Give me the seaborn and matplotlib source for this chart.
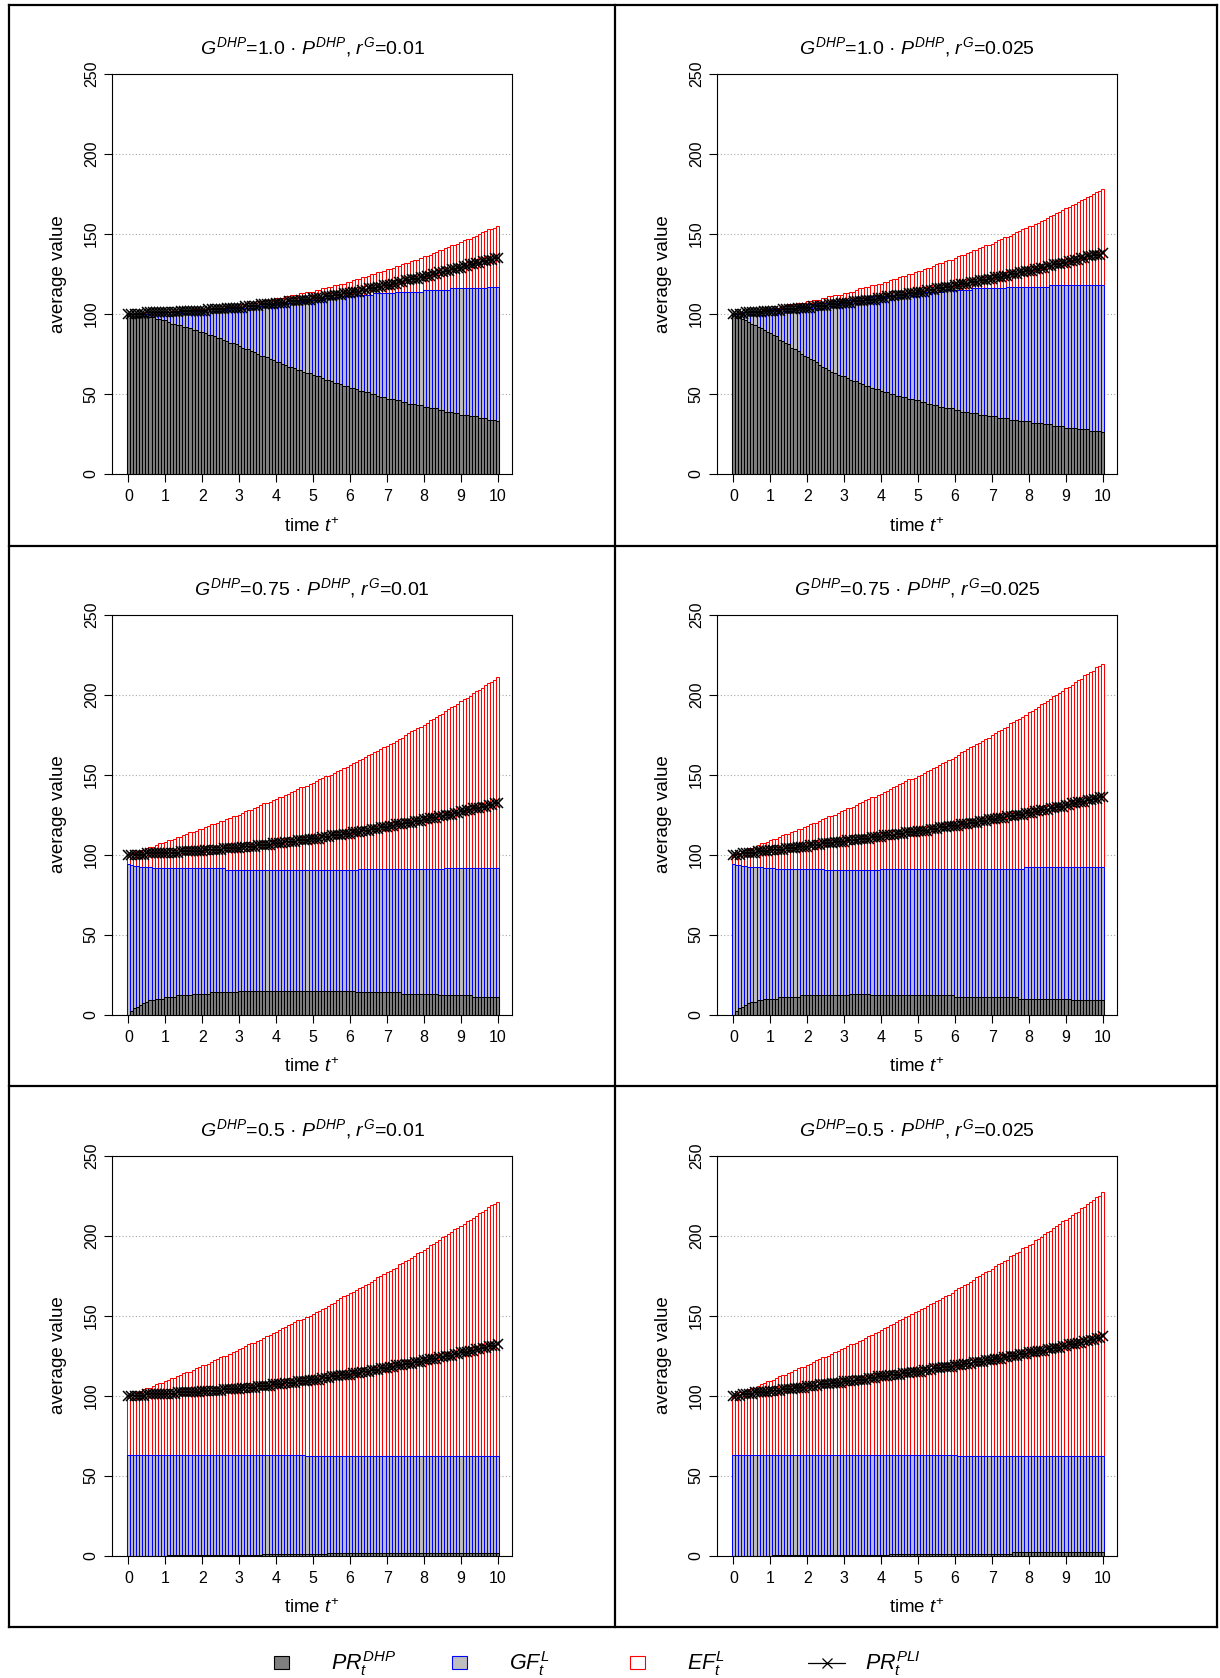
import numpy as np
import pandas as pd
import matplotlib
matplotlib.use("Agg")
import matplotlib.pyplot as plt
from matplotlib.lines import Line2D
from matplotlib.patches import Patch
import seaborn as sns

# ---------------------------------------------------------------------------
# data: monthly averages over 10 years (t+ = month / 12)
# *_dhp : height of PR^DHP segment
# *_gf  : top of the GF^L segment (PR^DHP + GF^L)
# *_ef  : top of the EF^L segment (PR^DHP + GF^L + EF^L)
# *_pli : PR^PLI line
# ---------------------------------------------------------------------------
months = list(range(121))
year_ticks = list(range(11))
value_ticks = [0, 50, 100, 150, 200, 250]

g_shares = ["1.0", "1.0", "0.75", "0.75", "0.5", "0.5"]
growth_rates = ["0.01", "0.025", "0.01", "0.025", "0.01", "0.025"]

p1_dhp = [100,100,100,99,99,99,99,98,98,97,97,96,
          96,95,94,94,93,93,92,92,91,90,90,89,
          89,88,87,87,86,85,85,84,83,82,82,81,
          80,79,78,78,77,76,75,74,74,73,72,71,
          70,70,69,68,67,67,66,65,65,64,63,63,
          62,61,61,60,59,59,58,57,57,56,55,55,
          54,54,53,52,52,51,51,50,50,49,48,48,
          47,47,47,46,46,45,45,44,44,44,43,43,
          42,42,41,41,41,40,40,39,39,39,38,38,
          37,37,37,36,36,36,35,35,35,34,34,34,
          33]
p1_gf = [100,100,100,100,100,100,100,100,101,101,101,101,
         101,101,101,101,101,101,102,102,102,102,102,102,
         102,102,103,103,103,103,103,103,103,104,104,104,
         104,104,104,105,105,105,105,105,105,106,106,106,
         106,106,107,107,107,107,108,108,108,108,108,109,
         109,109,109,109,110,110,110,110,110,111,111,111,
         111,111,112,112,112,112,112,112,113,113,113,113,
         113,113,113,114,114,114,114,114,114,114,114,114,
         115,115,115,115,115,115,115,115,115,116,116,116,
         116,116,116,116,116,116,116,116,116,117,117,117,
         117]
p1_ef = [100,100,100,100,100,101,101,101,101,101,101,101,
         101,101,102,102,102,102,102,102,102,103,103,103,
         103,103,104,104,104,104,104,105,105,105,105,106,
         106,106,106,107,107,107,108,108,108,109,109,109,
         110,110,110,111,111,112,112,112,113,113,114,114,
         114,115,115,116,116,117,117,118,118,119,119,120,
         120,121,122,122,123,123,124,125,125,126,126,127,
         128,128,129,130,130,131,132,132,133,134,134,135,
         136,136,137,138,139,140,140,141,142,143,143,144,
         145,146,147,147,148,149,150,151,152,153,153,154,
         155]
p1_pli = [100,100,100,100,100,100,101,101,101,101,101,101,
          101,101,101,101,101,102,102,102,102,102,102,102,
          102,102,103,103,103,103,103,103,104,104,104,104,
          104,104,105,105,105,105,105,106,106,106,106,106,
          107,107,107,107,108,108,108,108,109,109,109,109,
          110,110,110,110,111,111,111,112,112,112,113,113,
          113,114,114,114,115,115,116,116,116,117,117,118,
          118,118,119,119,120,120,121,121,122,122,122,123,
          123,124,124,125,125,126,126,127,127,128,128,129,
          129,130,130,131,131,132,132,133,133,134,134,135,
          135]

p2_dhp = [100,99,98,97,96,95,94,93,92,91,90,89,
          88,87,86,84,83,82,81,79,78,77,75,74,
          73,72,71,70,68,67,66,65,64,63,62,61,
          61,60,59,58,58,57,56,55,55,54,53,53,
          52,51,51,50,50,49,49,48,48,47,47,46,
          46,45,45,44,44,43,43,42,42,41,41,41,
          40,40,39,39,39,38,38,38,37,37,37,36,
          36,36,35,35,35,35,34,34,34,33,33,33,
          33,32,32,32,32,31,31,31,30,30,30,30,
          29,29,29,29,28,28,28,28,27,27,27,27,
          26]
p2_gf = [100,100,100,101,101,101,101,102,102,102,102,102,
         103,103,103,103,104,104,104,104,105,105,105,105,
         106,106,106,106,107,107,107,107,108,108,108,108,
         109,109,109,109,109,110,110,110,110,111,111,111,
         111,111,112,112,112,112,112,112,113,113,113,113,
         113,113,114,114,114,114,114,114,114,115,115,115,
         115,115,115,115,115,115,116,116,116,116,116,116,
         116,116,116,116,116,117,117,117,117,117,117,117,
         117,117,117,117,117,117,117,118,118,118,118,118,
         118,118,118,118,118,118,118,118,118,118,118,118,
         118]
p2_ef = [100,100,101,101,101,101,102,102,102,103,103,103,
         103,104,104,104,105,105,106,106,106,107,107,107,
         108,108,109,109,109,110,110,111,111,112,112,112,
         113,113,114,114,115,116,116,117,117,118,118,119,
         119,120,120,121,122,122,123,124,124,125,125,126,
         127,127,128,129,129,130,131,132,132,133,134,134,
         135,136,137,137,138,139,140,140,141,142,143,143,
         144,145,146,147,148,148,149,150,151,152,153,154,
         155,155,156,157,158,159,160,161,162,163,164,165,
         166,167,168,169,170,171,172,173,174,175,176,177,
         178]
p2_pli = [100,100,100,100,101,101,101,101,101,101,102,102,
          102,102,102,102,103,103,103,103,103,104,104,104,
          104,104,105,105,105,105,105,106,106,106,106,107,
          107,107,107,108,108,108,108,109,109,109,109,110,
          110,110,111,111,111,112,112,112,112,113,113,113,
          114,114,114,115,115,115,116,116,116,117,117,117,
          118,118,119,119,119,120,120,120,121,121,121,122,
          122,123,123,123,124,124,125,125,125,126,126,127,
          127,127,128,128,129,129,130,130,131,131,131,132,
          132,133,133,134,134,135,135,136,136,137,137,137,
          138]

p3_dhp = [0,2,4,5,6,7,8,9,9,10,10,10,
          11,11,11,11,12,12,12,12,12,13,13,13,
          13,13,13,14,14,14,14,14,14,14,14,14,
          15,15,15,15,15,15,15,15,15,15,15,15,
          15,15,15,15,15,15,15,15,15,15,15,15,
          15,15,15,15,15,15,15,15,15,15,15,15,
          15,15,14,14,14,14,14,14,14,14,14,14,
          14,14,14,14,14,13,13,13,13,13,13,13,
          13,13,13,13,13,12,12,12,12,12,12,12,
          12,12,12,12,11,11,11,11,11,11,11,11,
          11]
p3_gf = [94,93.5,93.1,92.8,92.5,92.3,92.1,91.9,91.8,91.7,91.6,91.5,
         91.5,91.5,91.5,91.5,91.5,91.5,91.5,91.5,91.5,91.5,
         91.5,91.5,91.5,91.5,91.5,91.5,91.5,91.5,91.5,91.5,
         90.4,90.4,90.4,90.4,90.4,90.4,90.4,90.4,90.4,90.4,
         90.4,90.4,90.4,90.4,90.4,90.4,90.4,90.4,90.4,90.4,
         90.4,90.4,90.4,90.4,90.4,90.4,90.4,90.4,90.4,90.4,
         90.4,90.4,90.4,90.4,90.4,90.4,90.4,90.4,90.4,90.4,
         90.4,90.4,90.4,
         90.8,90.8,90.8,90.8,90.8,90.8,90.8,90.8,90.8,90.8,
         90.8,90.8,90.8,90.8,90.8,90.8,90.8,90.8,90.8,90.8,
         90.8,90.8,90.8,90.8,90.8,90.8,90.8,90.8,
         91.5,91.5,91.5,91.5,91.5,91.5,91.5,91.5,91.5,91.5,
         91.5,91.5,91.5,91.5,91.5,91.5,91.5,91.5]
p3_ef = [100,101,101,102,103,103,104,105,105,106,107,107,
         108,109,109,110,111,111,112,113,114,114,115,116,
         116,117,118,119,119,120,121,121,122,123,124,124,
         125,126,127,128,128,129,130,131,132,132,133,134,
         135,136,136,137,138,139,140,141,142,142,143,144,
         145,146,147,148,149,149,150,151,152,153,154,155,
         156,157,158,159,160,161,162,163,164,165,166,167,
         168,169,170,171,172,173,175,176,177,178,179,180,
         181,182,184,185,186,187,188,190,191,192,193,194,
         196,197,198,199,201,202,203,204,206,207,208,209,
         211]
p3_pli = [100,100,100,100,100,100,101,101,101,101,101,101,
          101,101,101,101,101,102,102,102,102,102,102,102,
          102,103,103,103,103,103,103,104,104,104,104,104,
          104,105,105,105,105,105,106,106,106,106,106,107,
          107,107,107,108,108,108,108,109,109,109,109,110,
          110,110,110,111,111,111,112,112,112,112,113,113,
          113,114,114,114,115,115,115,116,116,116,117,117,
          117,118,118,119,119,119,120,120,120,121,121,121,
          122,122,123,123,123,124,124,125,125,125,126,126,
          127,127,128,128,129,129,129,130,130,131,131,132,
          132]

p4_dhp = [0,2,4,5,6,7,8,8,9,9,10,10,
          10,10,10,11,11,11,11,11,11,11,12,12,
          12,12,12,12,12,12,12,12,12,12,12,12,
          12,12,13,13,13,13,13,13,13,12,12,12,
          12,12,12,12,12,12,12,12,12,12,12,12,
          12,12,12,12,12,12,12,12,12,12,12,12,
          11,11,11,11,11,11,11,11,11,11,11,11,
          11,11,11,11,11,11,11,11,11,10,10,10,
          10,10,10,10,10,10,10,10,10,10,10,10,
          10,10,9,9,9,9,9,9,9,9,9,9,
          9]
p4_gf = [94,93.6,93.2,92.9,92.6,92.4,92.2,92.1,92,91.9,91.8,91.7,91.6,91.5,
         91.1,91.1,91.1,91.1,91.1,91.1,91.1,91.1,
         91.1,91.1,91.1,91.1,91.1,91.1,91.1,91.1,
         90.6,90.6,90.6,90.6,90.6,90.6,90.6,90.6,90.6,
         90.6,90.6,90.6,90.6,90.6,90.6,90.6,90.6,90.6,
         91.1,91.1,91.1,91.1,91.1,91.1,91.1,91.1,91.1,91.1,
         91.1,91.1,91.1,91.1,91.1,91.1,91.1,91.1,91.1,91.1,
         91.1,91.1,91.1,91.1,91.1,91.1,91.1,91.1,91.1,91.1,
         91.1,91.1,91.1,91.1,91.1,91.1,91.1,91.1,91.1,91.1,
         91.1,91.1,91.1,91.1,91.1,91.1,91.1,
         92,92,92,92,92,92,92,92,92,92,92,92,92,
         92,92,92,92,92,92,92,92,92,92,92,92,92]
p4_ef = [100,101,101,102,103,104,104,105,106,107,107,108,
         109,110,110,111,112,113,113,114,115,116,116,117,
         118,119,120,120,121,122,123,124,124,125,126,127,
         128,129,129,130,131,132,133,134,135,136,136,137,
         138,139,140,141,142,143,144,145,146,147,147,148,
         149,150,151,152,153,154,155,156,157,158,159,160,
         161,162,164,165,166,167,168,169,170,171,172,173,
         175,176,177,178,179,180,182,183,184,185,186,187,
         189,190,191,192,194,195,196,197,199,200,201,202,
         204,205,206,208,209,210,212,213,214,215,217,218,
         219]
p4_pli = [100,100,100,101,101,101,101,101,102,102,102,102,
          103,103,103,103,103,104,104,104,104,105,105,105,
          105,106,106,106,106,107,107,107,107,108,108,108,
          108,109,109,109,109,110,110,110,110,111,111,111,
          111,112,112,112,112,113,113,113,114,114,114,114,
          115,115,115,115,116,116,116,117,117,117,118,118,
          118,118,119,119,119,120,120,120,121,121,121,122,
          122,122,123,123,123,124,124,124,125,125,125,126,
          126,126,127,127,128,128,128,129,129,130,130,130,
          131,131,132,132,133,133,133,134,134,135,135,136,
          136]

p5_dhp = [0,0,0,0,0,0,0,0,0,0,0,0,0,
          0.6,0.6,0.6,0.6,0.6,0.6,0.6,0.6,0.6,0.6,
          0.6,0.6,0.6,0.6,0.6,0.6,0.6,0.6,0.6,0.6,
          0.6,0.6,0.6,0.6,0.6,0.6,0.6,0.6,0.6,0.6,0.6,
          1.2,1.2,1.2,1.2,1.2,1.2,1.2,1.2,1.2,1.2,
          1.2,1.2,1.2,1.2,1.2,1.2,1.2,1.2,1.2,1.2,1.2,
          1.8,1.8,1.8,1.8,1.8,1.8,1.8,1.8,1.8,1.8,
          1.8,1.8,1.8,1.8,1.8,1.8,1.8,1.8,1.8,1.8,
          1.8,1.8,1.8,1.8,1.8,1.8,1.8,1.8,1.8,1.8,
          1.8,1.8,1.8,1.8,1.8,1.8,1.8,1.8,1.8,1.8,
          1.8,1.8,1.8,1.8,1.8,1.8,1.8,1.8,1.8,1.8,
          1.8,1.8,1.8,1.8,1.8,1.8]
p5_gf = [62.6,62.6,62.6,62.6,62.6,62.6,62.6,62.6,62.6,62.6,
         62.6,62.6,62.6,62.6,62.6,62.6,62.6,62.6,62.6,62.6,
         62.6,62.6,62.6,62.6,62.6,62.6,62.6,62.6,62.6,62.6,
         62.6,62.6,62.6,62.6,62.6,62.6,62.6,62.6,62.6,62.6,
         62.6,62.6,62.6,62.6,62.6,62.6,62.6,62.6,62.6,62.6,
         62.6,62.6,62.6,62.6,62.6,62.6,62.6,62.6,
         62.0,62.0,62.0,62.0,62.0,62.0,62.0,62.0,62.0,62.0,
         62.0,62.0,62.0,62.0,62.0,62.0,62.0,62.0,62.0,62.0,
         62.0,62.0,62.0,62.0,62.0,62.0,62.0,62.0,62.0,62.0,
         62.0,62.0,62.0,62.0,62.0,62.0,62.0,62.0,62.0,62.0,
         62.0,62.0,62.0,62.0,62.0,62.0,62.0,62.0,62.0,62.0,
         62.0,62.0,62.0,62.0,62.0,62.0,62.0,62.0,62.0,62.0,
         62.0,62.0,62.0]
p5_ef = [100,101,102,102,103,104,105,105,106,107,108,108,
         109,110,111,111,112,113,114,115,115,116,117,118,
         119,119,120,121,122,123,124,125,125,126,127,128,
         129,130,131,132,133,133,134,135,136,137,138,139,
         140,141,142,143,144,145,146,147,147,148,149,150,
         151,152,153,154,155,156,157,158,160,161,162,163,
         164,165,166,167,168,169,170,171,172,174,175,176,
         177,178,179,180,182,183,184,185,186,187,189,190,
         191,192,194,195,196,197,199,200,201,202,204,205,
         206,207,209,210,211,212,214,215,216,218,219,220,
         221]
p5_pli = [100,100,100,100,100,100,101,101,101,101,101,101,
          101,101,101,101,102,102,102,102,102,102,102,102,
          103,103,103,103,103,103,103,104,104,104,104,104,
          104,105,105,105,105,105,106,106,106,106,106,107,
          107,107,107,108,108,108,108,109,109,109,109,110,
          110,110,110,111,111,111,112,112,112,113,113,113,
          113,114,114,114,115,115,115,116,116,116,117,117,
          117,118,118,119,119,119,120,120,120,121,121,121,
          122,122,123,123,123,124,124,125,125,125,126,126,
          127,127,127,128,128,129,129,130,130,131,131,131,
          132]

p6_dhp = [0,0,0,0,0,0,0,0,0,0,0,0,0,
          0.5,0.5,0.5,0.5,0.5,0.5,0.5,0.5,0.5,0.5,
          0.5,0.5,0.5,0.5,0.5,0.5,0.5,0.5,0.5,0.5,
          0.5,0.5,0.5,0.5,0.5,0.5,0.5,0.5,0.5,0.5,
          0.5,0.5,0.5,0.5,0.5,0.5,0.5,0.5,
          1.2,1.2,1.2,1.2,1.2,1.2,1.2,1.2,1.2,1.2,
          1.2,1.2,1.2,1.2,1.2,1.2,1.2,1.2,1.2,1.2,
          1.2,1.2,1.2,1.2,1.2,1.2,1.2,1.2,1.2,1.2,
          1.2,1.2,1.2,1.2,1.2,1.2,1.2,1.2,1.2,1.2,
          1.9,1.9,1.9,1.9,1.9,1.9,1.9,1.9,1.9,1.9,
          1.9,1.9,1.9,1.9,1.9,1.9,1.9,1.9,1.9,1.9,
          1.9,1.9,1.9,1.9,1.9,1.9,1.9,1.9,1.9,1.9]
p6_gf = [62.6,62.6,62.6,62.6,62.6,62.6,62.6,62.6,62.6,62.6,
         62.6,62.6,62.6,62.6,62.6,62.6,62.6,62.6,62.6,62.6,
         62.6,62.6,62.6,62.6,62.6,62.6,62.6,62.6,62.6,62.6,
         62.6,62.6,62.6,62.6,62.6,62.6,62.6,62.6,62.6,62.6,
         62.6,62.6,62.6,62.6,62.6,62.6,62.6,62.6,62.6,62.6,
         62.6,62.6,62.6,62.6,62.6,62.6,62.6,62.6,62.6,62.6,
         62.6,62.6,62.6,62.6,62.6,62.6,62.6,62.6,62.6,62.6,
         62.6,62.6,62.6,
         62.0,62.0,62.0,62.0,62.0,62.0,62.0,62.0,62.0,62.0,
         62.0,62.0,62.0,62.0,62.0,62.0,62.0,62.0,62.0,62.0,
         62.0,62.0,62.0,62.0,62.0,62.0,62.0,62.0,62.0,62.0,
         62.0,62.0,62.0,62.0,62.0,62.0,62.0,62.0,62.0,62.0,
         62.0,62.0,62.0,62.0,62.0,62.0,62.0,62.0]
p6_ef = [100,101,102,102,103,104,105,105,106,107,108,109,
         109,110,111,112,113,113,114,115,116,117,118,118,
         119,120,121,122,123,124,124,125,126,127,128,129,
         130,131,132,132,133,134,135,136,137,138,139,140,
         141,142,143,144,145,146,147,148,149,150,151,152,
         153,154,155,156,157,158,159,160,161,162,163,164,
         166,167,168,169,170,171,172,174,175,176,177,178,
         179,181,182,183,184,185,187,188,189,190,192,193,
         194,195,197,198,199,201,202,203,205,206,207,209,
         210,211,213,214,215,217,218,220,221,222,224,225,
         227]
p6_pli = [100,100,100,101,101,101,101,102,102,102,102,102,
          103,103,103,103,104,104,104,104,105,105,105,105,
          106,106,106,106,107,107,107,107,108,108,108,108,
          109,109,109,109,110,110,110,110,111,111,111,112,
          112,112,112,113,113,113,113,114,114,114,115,115,
          115,115,116,116,116,117,117,117,118,118,118,118,
          119,119,119,120,120,120,121,121,121,121,122,122,
          122,123,123,123,124,124,125,125,125,126,126,126,
          127,127,127,128,128,128,129,129,130,130,130,131,
          131,132,132,132,133,133,134,134,135,135,136,136,
          137]

panels = [
    (p1_dhp, p1_gf, p1_ef, p1_pli),
    (p2_dhp, p2_gf, p2_ef, p2_pli),
    (p3_dhp, p3_gf, p3_ef, p3_pli),
    (p4_dhp, p4_gf, p4_ef, p4_pli),
    (p5_dhp, p5_gf, p5_ef, p5_pli),
    (p6_dhp, p6_gf, p6_ef, p6_pli),
]

# ---------------------------------------------------------------------------
# style
# ---------------------------------------------------------------------------
sns.set_theme(style="ticks")
plt.rcParams["font.family"] = ["Liberation Sans", "DejaVu Sans"]
plt.rcParams.update({
    "mathtext.fontset": "custom",
    "mathtext.rm": "Liberation Sans",
    "mathtext.it": "Liberation Sans:italic",
    "mathtext.bf": "Liberation Sans:bold",
    "mathtext.sf": "Liberation Sans",
    "text.color": "black",
    "axes.labelcolor": "black",
})

DHP_FILL, DHP_EDGE = "#7F7F7F", "black"
GF_FILL, GF_EDGE = "#BEBEBE", "#0000FF"
EF_FILL, EF_EDGE = "white", "#FF0000"

W, H = 1220, 1678
fig = plt.figure(figsize=(W / 100, H / 100), dpi=100)
fig.patch.set_facecolor("white")

col_left = [112, 717]
row_top = [74, 614.5, 1155.5]
AX_SIZE = 400

for i, (dhp, gf, ef, pli) in enumerate(panels):
    r, c = divmod(i, 2)
    ax = fig.add_axes([col_left[c] / W, 1 - (row_top[r] + AX_SIZE) / H,
                       AX_SIZE / W, AX_SIZE / H])
    df = pd.DataFrame({
        "t": np.array(months) / 12.0,
        "dhp": dhp, "gf": gf, "ef": ef, "pli": pli,
    })
    common = dict(data=df, x="t", native_scale=True, orient="x", width=1.0,
                  errorbar=None, saturation=1, linewidth=0.75, ax=ax)
    # stacked segments drawn back to front
    sns.barplot(y="ef", color=EF_FILL, edgecolor=EF_EDGE, **common)
    sns.barplot(y="gf", color=GF_FILL, edgecolor=GF_EDGE, **common)
    sns.barplot(y="dhp", color=DHP_FILL, edgecolor=DHP_EDGE, **common)
    sns.lineplot(data=df, x="t", y="pli", color="black", marker="x",
                 markersize=7, markeredgewidth=1.1, markeredgecolor="black",
                 linewidth=1.0, errorbar=None, ax=ax, zorder=5)

    ax.set_xlim(-0.444, 10.38)
    ax.set_ylim(0, 250)
    ax.set_xticks(year_ticks)
    ax.set_xticklabels([str(v) for v in year_ticks])
    ax.set_yticks(value_ticks)
    ax.set_yticklabels([str(v) for v in value_ticks])
    ax.yaxis.grid(True, color="#A8A8A8", linestyle=(0, (1, 2)), linewidth=0.8)
    ax.xaxis.grid(False)
    ax.set_axisbelow(True)
    for sp in ax.spines.values():
        sp.set_visible(True)
        sp.set_color("black")
        sp.set_linewidth(0.8)
    ax.tick_params(axis="both", direction="out", length=5.5, width=0.8,
                   color="black", labelsize=11.5, labelcolor="black",
                   bottom=True, left=True)
    ax.tick_params(axis="x", pad=5.5)
    ax.tick_params(axis="y", pad=4, labelrotation=90)
    for lab in ax.get_yticklabels():
        lab.set_va("center")

    title = ("$G^{DHP}$=" + g_shares[i] + " · $P^{DHP}$, $r^{G}$="
             + growth_rates[i])
    ax.set_title(title, fontsize=14, pad=14.4, color="black")
    ax.set_xlabel("time $t^{+}$", fontsize=13.5)
    ax.set_ylabel("average value", fontsize=13.5)
    ax.xaxis.set_label_coords(0.5, -0.1075)
    ax.yaxis.set_label_coords(-0.1125, 0.5)

# panel frame grid
def frame_line(x0, y0, x1, y1):
    fig.add_artist(Line2D([x0 / W, x1 / W], [1 - y0 / H, 1 - y1 / H],
                          transform=fig.transFigure, color="black",
                          linewidth=1.6, solid_capstyle="projecting"))

frame_x = [9, 615, 1217]
frame_y = [5, 546, 1086, 1627]
for fx in frame_x:
    frame_line(fx, frame_y[0], fx, frame_y[-1])
for fy in frame_y:
    frame_line(frame_x[0], fy, frame_x[-1], fy)

# legend below the panels
LEG_PT = 15.5
LEG_PX = LEG_PT * 100 / 72
legend_items = [
    (Patch(facecolor=DHP_FILL, edgecolor=DHP_EDGE, linewidth=0.8), r"$PR_t^{DHP}$", 274, 15),
    (Patch(facecolor=GF_FILL, edgecolor=GF_EDGE, linewidth=0.8), r"$GF_t^{L}$", 452, 15),
    (Patch(facecolor=EF_FILL, edgecolor=EF_EDGE, linewidth=0.8), r"$EF_t^{L}$", 630, 15),
    (Line2D([], [], color="black", marker="x", markersize=7,
            markeredgewidth=0.9, linewidth=0.9), r"$PR_t^{PLI}$", 808, 37),
]
for handle, label, x0, hlen in legend_items:
    fig.legend([handle], [label], loc="center left",
               bbox_to_anchor=(x0 / W, 1 - 1664 / H),
               frameon=False, borderpad=0, borderaxespad=0,
               handlelength=hlen / LEG_PX, handleheight=12 / LEG_PX,
               handletextpad=(57 - hlen) / LEG_PX,
               prop={"size": LEG_PT})

fig.savefig("out.png", dpi=100, facecolor="white")
